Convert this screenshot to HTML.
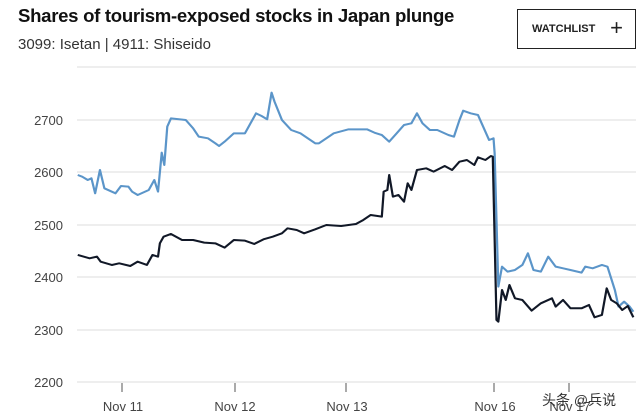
<!DOCTYPE html>
<html><head><meta charset="utf-8"><style>
body{margin:0;width:640px;height:416px;background:#fff;overflow:hidden;font-family:"Liberation Sans",sans-serif;position:relative}
.t{position:absolute;left:18px;top:5px;font-size:18.6px;font-weight:bold;color:#111;letter-spacing:-0.3px}
.s{position:absolute;left:18px;top:36px;font-size:15px;color:#333}
.w{position:absolute;left:517px;top:9px;width:119px;height:40px;border:1px solid #222;box-sizing:border-box;font-size:11px;font-weight:bold;color:#222;line-height:38px;padding-left:14px}
.w span{font-size:22px;font-weight:normal;position:absolute;right:12px;top:-1px}
</style></head><body>
<div class="t">Shares of tourism-exposed stocks in Japan plunge</div>
<div class="s">3099: Isetan | 4911: Shiseido</div>
<div class="w">WATCHLIST<span>+</span></div>
<svg width="640" height="416" style="position:absolute;left:0;top:0">
<g stroke="#ddd" stroke-width="1">
<line x1="77" y1="67" x2="636" y2="67"/>
<line x1="77" y1="120" x2="636" y2="120"/>
<line x1="77" y1="172" x2="636" y2="172"/>
<line x1="77" y1="225" x2="636" y2="225"/>
<line x1="77" y1="277" x2="636" y2="277"/>
<line x1="77" y1="330" x2="636" y2="330"/>
<line x1="77" y1="382" x2="636" y2="382"/>
</g>
<g font-size="13" fill="#444" text-anchor="end">
<text x="63" y="125">2700</text><text x="63" y="177">2600</text><text x="63" y="230">2500</text>
<text x="63" y="282">2400</text><text x="63" y="335">2300</text><text x="63" y="387">2200</text>
</g>
<g stroke="#555" stroke-width="1">
<line x1="122" y1="383" x2="122" y2="392"/><line x1="235" y1="383" x2="235" y2="392"/>
<line x1="346" y1="383" x2="346" y2="392"/><line x1="494" y1="383" x2="494" y2="392"/>
<line x1="569" y1="383" x2="569" y2="392"/>
</g>
<g font-size="13" fill="#444" text-anchor="middle">
<text x="123" y="411">Nov 11</text><text x="235" y="411">Nov 12</text><text x="347" y="411">Nov 13</text>
<text x="495" y="411">Nov 16</text><text x="570" y="411">Nov 17</text>
</g>
<g transform="translate(60,80) scale(0.3699,0.3333)" fill="none" stroke-width="6" stroke-linejoin="round">
<polyline stroke="#5b95c9" points="48,285 60,290 75,300 85,295 95,340 108,270 120,325 150,340 165,318 185,320 195,335 210,345 240,330 255,300 265,335 275,218 282,255 290,140 300,115 340,120 360,145 375,170 400,175 420,190 430,198 445,185 470,160 500,160 515,130 530,100 545,108 560,118 572,38 580,65 600,120 625,150 650,160 690,190 700,190 740,160 780,148 830,148 850,158 870,165 890,185 910,160 930,135 950,130 965,100 980,130 1000,150 1020,150 1050,165 1065,170 1080,120 1090,92 1110,100 1130,105 1140,130 1160,180 1172,175 1175,220 1185,620 1195,560 1210,575 1230,570 1250,555 1265,520 1280,570 1300,575 1320,530 1340,560 1360,565 1380,570 1410,578 1420,560 1440,565 1465,555 1480,560 1500,630 1510,680 1525,665 1540,680 1550,695"/>
<polyline stroke="#111827" points="48,525 80,535 100,530 110,545 140,555 160,550 190,558 210,545 235,555 250,525 265,530 270,490 280,470 300,462 330,480 360,480 390,488 420,490 445,503 470,480 500,482 525,492 550,478 575,470 600,460 615,445 640,450 660,460 690,448 720,435 760,438 800,432 820,420 840,405 870,410 875,335 885,330 890,285 900,350 915,345 930,365 940,310 950,330 965,270 990,265 1010,275 1040,258 1060,270 1080,245 1100,240 1120,255 1130,232 1150,240 1165,228 1170,230 1180,720 1185,725 1195,630 1205,660 1215,615 1230,655 1250,660 1275,692 1300,670 1330,655 1340,680 1360,660 1380,685 1410,685 1430,675 1445,712 1465,705 1478,625 1490,660 1505,670 1520,690 1535,678 1550,712"/>
</g>
<text x="542" y="405" font-size="14" fill="#333" font-family="Liberation Sans, Noto Sans CJK SC, sans-serif">头条 @兵说</text>
</svg>
</body></html>
